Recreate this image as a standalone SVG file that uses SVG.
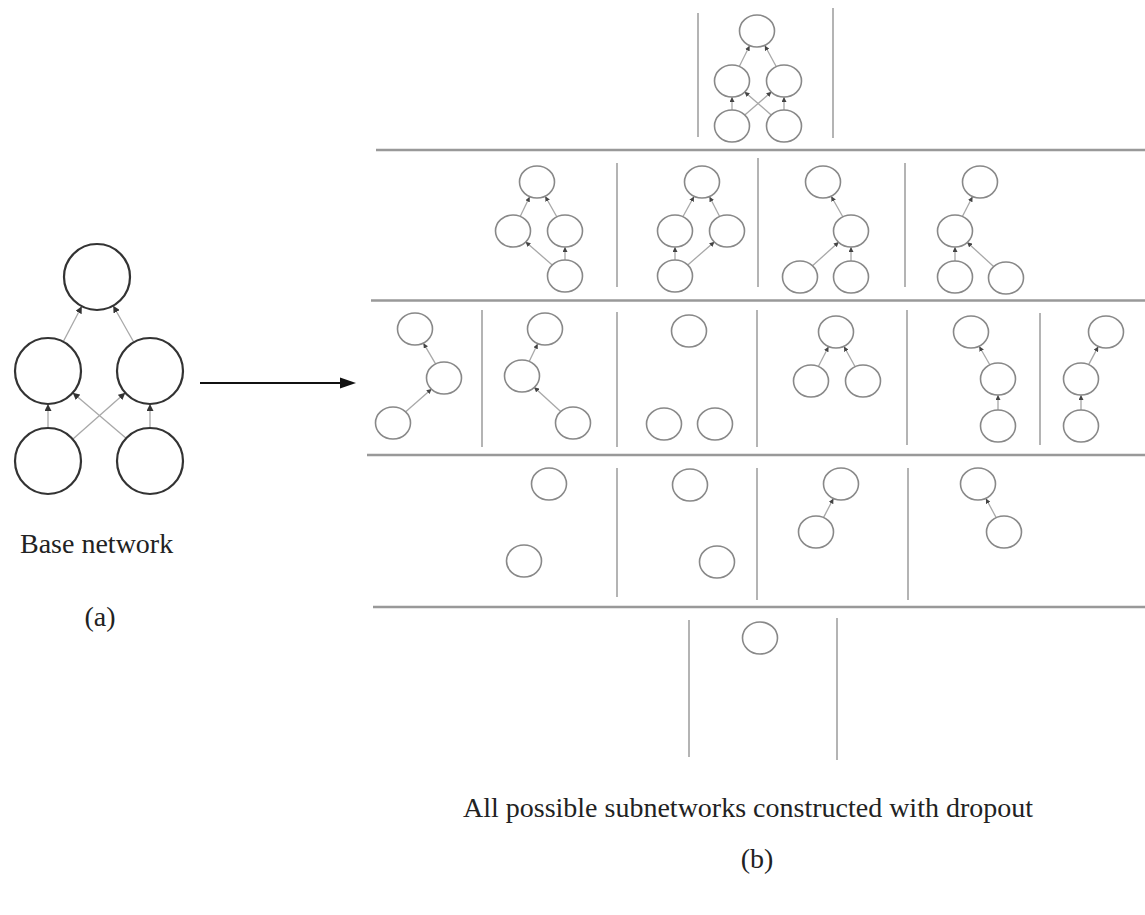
<svg xmlns="http://www.w3.org/2000/svg" width="1145" height="915" viewBox="0 0 1145 915">
  <defs>
    <style>
      .base { fill: #fff; stroke: #333; stroke-width: 2.2; }
      .sub { fill: #fff; stroke: #888; stroke-width: 1.6; }
      .edge { stroke: #a8a8a8; stroke-width: 1.3; fill: none; }
      .sep { stroke: #b4b4b4; stroke-width: 2; }
      .hline { stroke: #999; stroke-width: 2.5; }
      .label { font-family: "Liberation Serif", "Times New Roman", serif; font-size: 28px; fill: #222; }
    </style>
    <marker id="ah" viewBox="0 0 6 6" refX="6" refY="3" markerWidth="5" markerHeight="5" orient="auto" markerUnits="userSpaceOnUse">
      <path d="M0,0 L6,3 L0,6 z" fill="#444"/>
    </marker>
    <marker id="ahBig" viewBox="0 0 6 6" refX="6" refY="3" markerWidth="7" markerHeight="7" orient="auto" markerUnits="userSpaceOnUse">
      <path d="M0,0 L6,3 L0,6 z" fill="#333"/>
    </marker>
  </defs>

  <rect width="1145" height="915" fill="#fff"/>

  <!-- panel grid -->
  <g id="grid">
    <line class="hline" x1="376" y1="150" x2="1145" y2="150"/>
    <line class="hline" x1="371" y1="300.5" x2="1145" y2="300.5"/>
    <line class="hline" x1="367" y1="455" x2="1145" y2="455"/>
    <line class="hline" x1="373" y1="607" x2="1145" y2="607"/>
    <line class="sep" x1="698" y1="13" x2="698" y2="137"/>
    <line class="sep" x1="833" y1="8" x2="833" y2="138"/>
    <line class="sep" x1="617" y1="163" x2="617" y2="287"/>
    <line class="sep" x1="758" y1="158" x2="758" y2="287"/>
    <line class="sep" x1="905" y1="163" x2="905" y2="287"/>
    <line class="sep" x1="482" y1="310" x2="482" y2="447"/>
    <line class="sep" x1="617" y1="312" x2="617" y2="447"/>
    <line class="sep" x1="757" y1="310" x2="757" y2="447"/>
    <line class="sep" x1="907" y1="310" x2="907" y2="445"/>
    <line class="sep" x1="1040" y1="313" x2="1040" y2="445"/>
    <line class="sep" x1="617" y1="468" x2="617" y2="597"/>
    <line class="sep" x1="757" y1="468" x2="757" y2="600"/>
    <line class="sep" x1="908" y1="468" x2="908" y2="600"/>
    <line class="sep" x1="689" y1="620" x2="689" y2="757"/>
    <line class="sep" x1="837" y1="618" x2="837" y2="760"/>
  </g>

  <!-- connectors -->
  <g id="connectors">
    <!-- base network -->
    <line class="edge" x1="63.2" y1="341.7" x2="81.8" y2="306.3" marker-end="url(#ahBig)"/>
    <line class="edge" x1="133.8" y1="342.3" x2="113.2" y2="305.7" marker-end="url(#ahBig)"/>
    <line class="edge" x1="48" y1="428" x2="48" y2="404" marker-end="url(#ahBig)"/>
    <line class="edge" x1="150" y1="428" x2="150" y2="404" marker-end="url(#ahBig)"/>
    <line class="edge" x1="72.7" y1="439.2" x2="125.3" y2="392.8" marker-end="url(#ahBig)"/>
    <line class="edge" x1="127.3" y1="439.2" x2="72.7" y2="392.8" marker-end="url(#ahBig)"/>

    <!-- full subnetwork -->
    <line class="edge" x1="739.4" y1="66.2" x2="749.6" y2="45.8" marker-end="url(#ah)"/>
    <line class="edge" x1="776.2" y1="66.5" x2="764.8" y2="45.5" marker-end="url(#ah)"/>
    <line class="edge" x1="732" y1="110" x2="732" y2="97" marker-end="url(#ah)"/>
    <line class="edge" x1="784" y1="110" x2="784" y2="97" marker-end="url(#ah)"/>
    <line class="edge" x1="744.5" y1="115.2" x2="771.5" y2="91.8" marker-end="url(#ah)"/>
    <line class="edge" x1="771.5" y1="115.2" x2="744.5" y2="91.8" marker-end="url(#ah)"/>

    <!-- row 2 -->
    <line class="edge" x1="520.3" y1="216.2" x2="529.7" y2="196.8" marker-end="url(#ah)"/>
    <line class="edge" x1="556.8" y1="216.7" x2="545.2" y2="196.3" marker-end="url(#ah)"/>
    <line class="edge" x1="565" y1="260" x2="565" y2="247" marker-end="url(#ah)"/>
    <line class="edge" x1="552.5" y1="265.2" x2="525.5" y2="241.8" marker-end="url(#ah)"/>

    <line class="edge" x1="683" y1="216.5" x2="694" y2="196.5" marker-end="url(#ah)"/>
    <line class="edge" x1="719.5" y1="216.3" x2="709.5" y2="196.7" marker-end="url(#ah)"/>
    <line class="edge" x1="675" y1="260" x2="675" y2="247" marker-end="url(#ah)"/>
    <line class="edge" x1="687.5" y1="265.2" x2="714.5" y2="241.8" marker-end="url(#ah)"/>

    <line class="edge" x1="842.8" y1="216.7" x2="831.2" y2="196.3" marker-end="url(#ah)"/>
    <line class="edge" x1="851" y1="261" x2="851" y2="247" marker-end="url(#ah)"/>
    <line class="edge" x1="812.2" y1="266" x2="838.8" y2="242" marker-end="url(#ah)"/>

    <line class="edge" x1="962.5" y1="216.3" x2="972.5" y2="196.7" marker-end="url(#ah)"/>
    <line class="edge" x1="955" y1="261" x2="955" y2="247" marker-end="url(#ah)"/>
    <line class="edge" x1="993.9" y1="266.8" x2="967.1" y2="242.2" marker-end="url(#ah)"/>

    <!-- row 3 -->
    <line class="edge" x1="435.6" y1="363.8" x2="423.4" y2="343.2" marker-end="url(#ah)"/>
    <line class="edge" x1="405.4" y1="412.1" x2="431.6" y2="388.9" marker-end="url(#ah)"/>

    <line class="edge" x1="529.3" y1="361.2" x2="537.7" y2="343.8" marker-end="url(#ah)"/>
    <line class="edge" x1="560.9" y1="411.8" x2="534.1" y2="387.2" marker-end="url(#ah)"/>

    <line class="edge" x1="818.5" y1="366.3" x2="828.5" y2="346.7" marker-end="url(#ah)"/>
    <line class="edge" x1="855" y1="366.5" x2="844" y2="346.5" marker-end="url(#ah)"/>

    <line class="edge" x1="989.8" y1="364.7" x2="979.2" y2="346.3" marker-end="url(#ah)"/>
    <line class="edge" x1="998" y1="410" x2="998" y2="395" marker-end="url(#ah)"/>

    <line class="edge" x1="1088.8" y1="364.4" x2="1098.2" y2="346.6" marker-end="url(#ah)"/>
    <line class="edge" x1="1081" y1="410" x2="1081" y2="395" marker-end="url(#ah)"/>

    <!-- row 4 -->
    <line class="edge" x1="823.6" y1="517.4" x2="833.4" y2="498.6" marker-end="url(#ah)"/>
    <line class="edge" x1="996.1" y1="517.5" x2="985.9" y2="498.5" marker-end="url(#ah)"/>

    <!-- main arrow -->
    <line x1="200" y1="383" x2="343" y2="383" stroke="#111" stroke-width="2"/>
    <polygon points="356,383 340,377.5 340,388.5" fill="#111"/>
  </g>

  <!-- base network -->
  <g id="base-network">
    <circle class="base" cx="97" cy="277" r="33"/>
    <circle class="base" cx="48" cy="371" r="33"/>
    <circle class="base" cx="150" cy="371" r="33"/>
    <circle class="base" cx="48" cy="461" r="33"/>
    <circle class="base" cx="150" cy="461" r="33"/>
  </g>

  <g id="sub-full">
    <ellipse class="sub" cx="757" cy="31" rx="17.5" ry="16"/>
    <ellipse class="sub" cx="732" cy="81" rx="17.5" ry="16"/>
    <ellipse class="sub" cx="784" cy="81" rx="17.5" ry="16"/>
    <ellipse class="sub" cx="732" cy="126" rx="17.5" ry="16"/>
    <ellipse class="sub" cx="784" cy="126" rx="17.5" ry="16"/>
  </g>

  <g id="sub-r2a">
    <ellipse class="sub" cx="537" cy="182" rx="17.5" ry="16"/>
    <ellipse class="sub" cx="513" cy="231" rx="17.5" ry="16"/>
    <ellipse class="sub" cx="565" cy="231" rx="17.5" ry="16"/>
    <ellipse class="sub" cx="565" cy="276" rx="17.5" ry="16"/>
  </g>
  <g id="sub-r2b">
    <ellipse class="sub" cx="702" cy="182" rx="17.5" ry="16"/>
    <ellipse class="sub" cx="675" cy="231" rx="17.5" ry="16"/>
    <ellipse class="sub" cx="727" cy="231" rx="17.5" ry="16"/>
    <ellipse class="sub" cx="675" cy="276" rx="17.5" ry="16"/>
  </g>
  <g id="sub-r2c">
    <ellipse class="sub" cx="823" cy="182" rx="17.5" ry="16"/>
    <ellipse class="sub" cx="851" cy="231" rx="17.5" ry="16"/>
    <ellipse class="sub" cx="800" cy="277" rx="17.5" ry="16"/>
    <ellipse class="sub" cx="851" cy="277" rx="17.5" ry="16"/>
  </g>
  <g id="sub-r2d">
    <ellipse class="sub" cx="980" cy="182" rx="17.5" ry="16"/>
    <ellipse class="sub" cx="955" cy="231" rx="17.5" ry="16"/>
    <ellipse class="sub" cx="955" cy="277" rx="17.5" ry="16"/>
    <ellipse class="sub" cx="1006" cy="278" rx="17.5" ry="16"/>
  </g>

  <g id="sub-r3a">
    <ellipse class="sub" cx="415" cy="329" rx="17.5" ry="16"/>
    <ellipse class="sub" cx="444" cy="378" rx="17.5" ry="16"/>
    <ellipse class="sub" cx="393" cy="423" rx="17.5" ry="16"/>
  </g>
  <g id="sub-r3b">
    <ellipse class="sub" cx="545" cy="329" rx="17.5" ry="16"/>
    <ellipse class="sub" cx="522" cy="376" rx="17.5" ry="16"/>
    <ellipse class="sub" cx="573" cy="423" rx="17.5" ry="16"/>
  </g>
  <g id="sub-r3c">
    <ellipse class="sub" cx="689" cy="331" rx="17.5" ry="16"/>
    <ellipse class="sub" cx="664" cy="424" rx="17.5" ry="16"/>
    <ellipse class="sub" cx="715" cy="424" rx="17.5" ry="16"/>
  </g>
  <g id="sub-r3d">
    <ellipse class="sub" cx="836" cy="332" rx="17.5" ry="16"/>
    <ellipse class="sub" cx="811" cy="381" rx="17.5" ry="16"/>
    <ellipse class="sub" cx="863" cy="381" rx="17.5" ry="16"/>
  </g>
  <g id="sub-r3e">
    <ellipse class="sub" cx="971" cy="332" rx="17.5" ry="16"/>
    <ellipse class="sub" cx="998" cy="379" rx="17.5" ry="16"/>
    <ellipse class="sub" cx="998" cy="426" rx="17.5" ry="16"/>
  </g>
  <g id="sub-r3f">
    <ellipse class="sub" cx="1106" cy="332" rx="17.5" ry="16"/>
    <ellipse class="sub" cx="1081" cy="379" rx="17.5" ry="16"/>
    <ellipse class="sub" cx="1081" cy="426" rx="17.5" ry="16"/>
  </g>

  <g id="sub-r4a">
    <ellipse class="sub" cx="549" cy="484" rx="17.5" ry="16"/>
    <ellipse class="sub" cx="524" cy="561" rx="17.5" ry="16"/>
  </g>
  <g id="sub-r4b">
    <ellipse class="sub" cx="690" cy="485" rx="17.5" ry="16"/>
    <ellipse class="sub" cx="717" cy="562" rx="17.5" ry="16"/>
  </g>
  <g id="sub-r4c">
    <ellipse class="sub" cx="841" cy="484" rx="17.5" ry="16"/>
    <ellipse class="sub" cx="816" cy="532" rx="17.5" ry="16"/>
  </g>
  <g id="sub-r4d">
    <ellipse class="sub" cx="978" cy="484" rx="17.5" ry="16"/>
    <ellipse class="sub" cx="1004" cy="532" rx="17.5" ry="16"/>
  </g>

  <g id="sub-r5">
    <ellipse class="sub" cx="760" cy="638" rx="17.5" ry="16"/>
  </g>

  <!-- captions -->
  <g id="captions">
    <text class="label" x="20" y="553">Base network</text>
    <text class="label" x="100" y="626" text-anchor="middle">(a)</text>
    <text class="label" x="748" y="817" text-anchor="middle">All possible subnetworks constructed with dropout</text>
    <text class="label" x="757" y="868" text-anchor="middle">(b)</text>
  </g>
</svg>
